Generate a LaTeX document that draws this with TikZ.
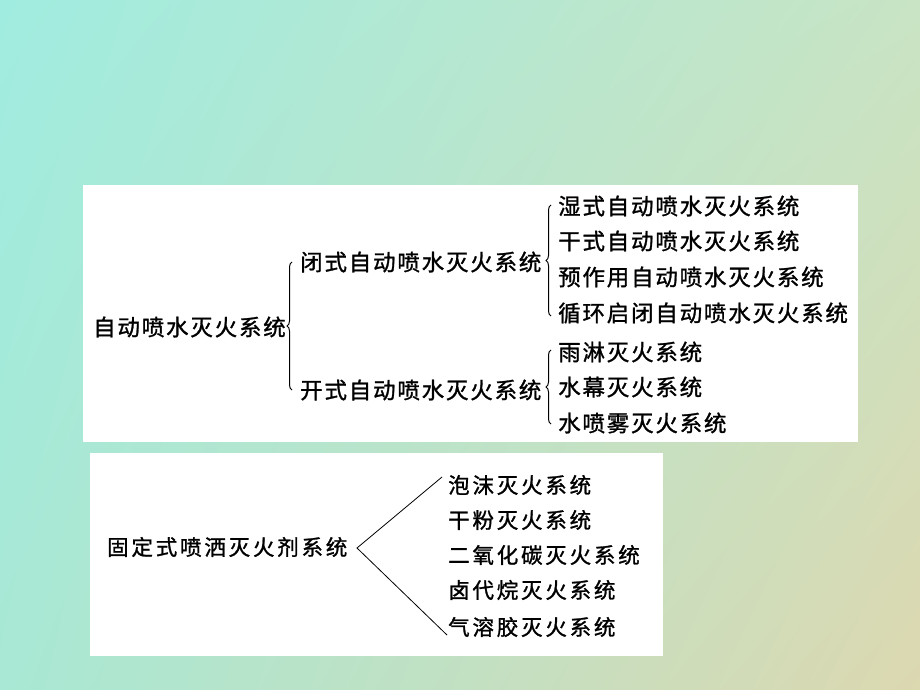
\documentclass[tikz,border=0pt]{standalone}
\usepackage{fontspec}
\usepackage{tikz}
\usetikzlibrary{positioning, calc}
\usetikzlibrary{decorations.pathreplacing}
\usetikzlibrary{shadings}
\newfontfamily\cjk[LetterSpace=8, FakeBold=1.2]{Noto Sans CJK SC}
\newfontfamily\cjkb[LetterSpace=13, FakeBold=1.2]{Noto Sans CJK SC}

\definecolor{bgtl}{RGB}{160,236,224}
\definecolor{bgtr}{RGB}{200,228,196}
\definecolor{bgbl}{RGB}{168,232,212}
\definecolor{bgbr}{RGB}{220,216,176}

\tikzset{
    txt/.style={anchor=west, inner sep=0pt, font=\cjk\fontsize{22.5}{22}\selectfont},
    txtb/.style={anchor=west, inner sep=0pt, font=\cjkb\fontsize{21.5}{22}\selectfont},
    brc/.style={decorate, decoration={brace, amplitude=5pt}, line width=1pt},
}

\begin{document}
\begin{tikzpicture}[x=1pt, y=-1pt]
            \useasboundingbox (0,0) rectangle (920,690);
            \shade[upper left=bgtl, upper right=bgtr, lower left=bgbl, lower right=bgbr] (0,0) rectangle (920,690);
            \fill[white] (83,185) rectangle (858,442);
            \fill[white] (90,453) rectangle (663,656);

            % upper tree
            \node[txt] (spr) at (93,327) {自动喷水灭火系统};
            \node[txt] (cls) at (300,262) {闭式自动喷水灭火系统};
            \node[txt] (opn) at (300,390) {开式自动喷水灭火系统};
            \node[txt] (wet) at (558,206) {湿式自动喷水灭火系统};
            \node[txt] (dry) at (558,241) {干式自动喷水灭火系统};
            \node[txt] (pre) at (558,277) {预作用自动喷水灭火系统};
            \node[txt] (cyc) at (558,313) {循环启闭自动喷水灭火系统};
            \node[txt] (dlg) at (558,352) {雨淋灭火系统};
            \node[txt] (crt) at (558,387) {水幕灭火系统};
            \node[txt] (mst) at (558,423) {水喷雾灭火系统};

            \draw[brc] ($(opn.west)+(-8,0)$) -- ($(cls.west)+(-8,0)$);
            \draw[brc] ($(cyc.west)+(-7,3)$) -- ($(wet.west)+(-7,-1)$);
            \draw[brc] ($(mst.west)+(-7,1)$) -- ($(dlg.west)+(-7,-2)$);

            % lower tree
            \node[txtb] (fix) at (107,547) {固定式喷洒灭火剂系统};
            \node[txtb] (foa) at (448,485) {泡沫灭火系统};
            \node[txtb] (pow) at (448,520) {干粉灭火系统};
            \node[txtb] (cod) at (448,555) {二氧化碳灭火系统};
            \node[txtb] (hal) at (448,590) {卤代烷灭火系统};
            \node[txtb] (aer) at (448,627) {气溶胶灭火系统};

            \coordinate (tip) at (357,548);
            \draw[line width=0.8pt] ($(foa.west)+(-6,-8)$) -- (tip) -- ($(aer.west)+(-1,8)$);
        \end{tikzpicture}
\end{document}
